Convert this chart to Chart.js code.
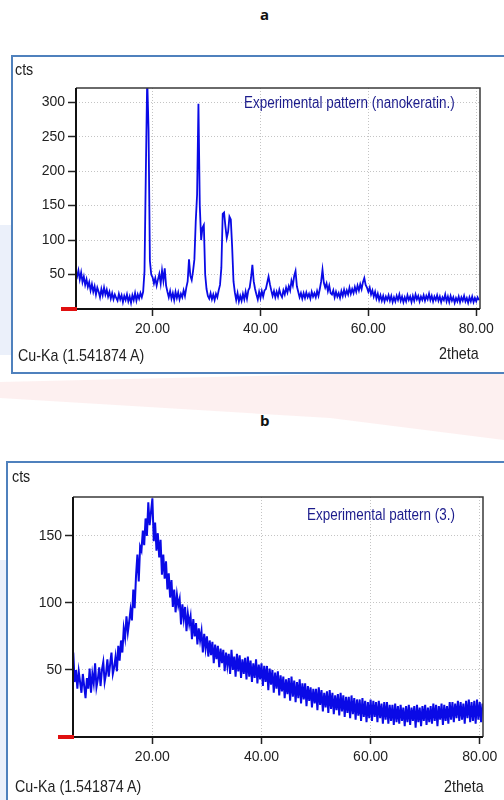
<!DOCTYPE html>
<html lang="en">
<head>
<meta charset="UTF-8">
<title>XRD patterns</title>
<style>
  body { margin: 0; width: 504px; height: 800px; background: #fff; position: relative; overflow: hidden;
         font-family: "Liberation Sans", Arial, sans-serif; color: #222; }
  .fundo { position: absolute; }
  .letra { position: absolute; font-family: "Open Sans", "Liberation Sans", sans-serif; font-weight: bold; font-size: 15px; color: #111; }
  .caixa { position: absolute; border: 2px solid #4f81bd; background: #fff; }
  .graf { position: absolute; }
  .txt { position: absolute; font-size: 17px; line-height: 16px; white-space: nowrap; transform: scaleX(0.84); transform-origin: 0 50%; }
  .leg { color: #1c1c8c; font-size: 16px; }
</style>
</head>
<body>
    <!-- marca d'agua clarinha do fundo -->
    <div class="fundo" style="left:0;top:0;width:504px;height:800px;background:rgba(225,60,60,0.08);clip-path:polygon(0 382px,504px 370px,504px 440px,330px 418px,0 398px);"></div>
    <div class="fundo" style="left:0;top:225px;width:14px;height:130px;background:rgba(90,130,210,0.12);"></div>
    <div class="fundo" style="left:0;top:560px;width:8px;height:240px;background:rgba(90,130,210,0.12);"></div>

    <div class="letra" style="left:260px;top:4px;">a</div>
    <div class="caixa" style="left:11px;top:55px;width:510px;height:315px;"></div>
    <div class="graf" style="left:12px;top:56px;width:492px;height:316px;"><canvas id="graficoA"></canvas></div>
    <div class="txt" style="left:15px;top:62px;">cts</div>
    <div class="txt leg" style="left:244px;top:95px;">Experimental pattern (nanokeratin.)</div>
    <div class="txt" style="left:18px;top:348px;">Cu-Ka (1.541874 A)</div>
    <div class="txt" style="left:439px;top:346px;">2theta</div>

    <div class="letra" style="left:260px;top:410px;">b</div>
    <div class="caixa" style="left:6px;top:461px;width:520px;height:360px;"></div>
    <div class="graf" style="left:7px;top:462px;width:497px;height:338px;"><canvas id="graficoB"></canvas></div>
    <div class="txt" style="left:12px;top:469px;">cts</div>
    <div class="txt leg" style="left:307px;top:507px;">Experimental pattern (3.)</div>
    <div class="txt" style="left:15px;top:779px;">Cu-Ka (1.541874 A)</div>
    <div class="txt" style="left:444px;top:779px;">2theta</div>

<script src="https://cdn.jsdelivr.net/npm/chart.js"></script>
<script>
    // varredura em 2theta: angulo inicial e passo (graus)
    var inicioA = 5.75;
    var passoA = 0.25;
    // contagens do padrao (a) nanokeratin, 4 leituras por grau
    var contagensA = [52,
        47, 56, 43, 53,   39, 47, 35, 43,   32, 39, 27, 36,   25, 33, 21, 31,
        25, 17, 29, 20,   31, 21, 28, 18,   25, 15, 23, 14,   21, 16, 12, 22,
        14, 20, 10, 19,   13, 21, 11, 18,   9, 20, 13, 23,    12, 21, 15, 23,
        17, 25, 55, 200,  335, 260, 70, 50,  46, 37, 45, 34,   43, 51, 37, 56,
        41, 59, 34, 25,   17, 26, 15, 23,   13, 25, 16, 24,   14, 22, 17, 27,
        19, 31, 40, 72,   48, 42, 55, 72,   127, 166, 298, 150, 100, 118, 122, 50,
        29, 19, 15, 23,   14, 21, 13, 22,   17, 27, 35, 60,   138, 140, 120, 103,
        112, 134, 130, 90, 40, 24, 13, 23,  11, 19, 12, 22,   14, 25, 15, 27,
        31, 45, 64, 40,   29, 21, 14, 25,   16, 26, 18, 27,   29, 38, 47, 36,
        27, 19, 26, 17,   25, 18, 28, 21,   17, 27, 21, 31,   24, 33, 27, 41,
        34, 48, 55, 33,   25, 17, 23, 15,   23, 16, 24, 17,   22, 15, 25, 18,
        23, 17, 26, 19,   29, 40, 57, 38,   31, 37, 26, 34,   23, 21, 27, 17,
        25, 18, 23, 16,   26, 19, 28, 20,   27, 21, 31, 22,   29, 23, 32, 25,
        34, 27, 36, 29,   39, 45, 35, 31,   25, 31, 21, 27,   18, 25, 15, 22,
        13, 20, 12, 19,   11, 18, 13, 20,   12, 19, 10, 17,   11, 19, 13, 21,
        12, 18, 10, 17,   11, 20, 13, 18,   10, 19, 12, 21,   14, 19, 11, 18,
        13, 20, 12, 19,   14, 22, 13, 19,   11, 18, 13, 20,   12, 18, 10, 17,
        13, 21, 11, 18,   10, 19, 12, 17,   9, 16, 11, 18,    10, 17, 12, 19,
        11, 16, 9, 17,    11, 18, 10, 16,   11, 17, 13];

    var inicioB = 5.5;
    var passoB = 0.25;
    // contagens do padrao (b) amostra 3
    var contagensB = [63, 41,
        50, 36, 49, 41,   33, 47, 38, 29,   44, 36, 51, 33,   47, 40, 55, 37,
        43, 52, 38, 50,   56, 41, 47, 58,   45, 54, 63, 47,   52, 60, 49, 68,
        57, 72, 63, 81,   74, 90, 78, 86,   95, 87, 110, 96,  120, 136, 116, 142,
        139, 154, 143, 163, 150, 175, 158, 168, 178, 146, 160, 139, 152, 134, 147, 121,
        136, 118, 131, 110, 122, 104, 117, 97, 110, 93, 106, 98, 103, 84, 99, 88,
        97, 79, 92, 84,   90, 73, 88, 75,   85, 69, 81, 72,   79, 63, 77, 66,
        75, 60, 72, 61,   71, 55, 69, 58,   68, 52, 66, 55,   65, 49, 63, 53,
        62, 47, 65, 50,   60, 45, 62, 49,   61, 44, 58, 47,   59, 43, 60, 45,
        57, 41, 55, 44,   58, 40, 54, 43,   55, 38, 53, 41,   53, 35, 51, 39,
        50, 33, 48, 36,   49, 31, 46, 34,   45, 29, 43, 32,   44, 27, 45, 30,
        42, 26, 41, 29,   43, 25, 40, 28,   40, 23, 38, 27,   37, 22, 36, 25,
        36, 20, 37, 24,   35, 19, 33, 22,   34, 18, 35, 21,   33, 17, 31, 20,
        32, 16, 33, 19,   31, 15, 30, 18,   30, 14, 31, 17,   29, 13, 28, 16,
        28, 12, 29, 15,   27, 11, 26, 14,   28, 12, 27, 15,   26, 11, 27, 14,
        25, 10, 26, 13,   26, 10, 24, 12,   24, 9, 25, 11,    23, 10, 24, 12,
        22, 8, 23, 11,    24, 9, 22, 12,    23, 7, 24, 11,    22, 8, 23, 12,
        24, 9, 22, 11,    23, 10, 25, 12,   24, 8, 23, 13,    25, 9, 24, 12,
        23, 10, 26, 13,   26, 11, 25, 14,   27, 12, 26, 13,   25, 10, 27, 14,
        28, 11, 26, 12,   27, 10, 28, 13,   26, 11, 25];

    var ticksX = [20, 40, 60, 80];
    var ticksYA = [50, 100, 150, 200, 250, 300];
    var ticksYB = [50, 100, 150];

    var fonte = '"Liberation Sans", Arial, sans-serif';

    function montarPontos(inicio, passo, contagens) {
        var pontos = [];
        for (var i = 0; i < contagens.length; i++) {
            pontos.push({ x: inicio + i * passo, y: contagens[i] });
        }
        return pontos;
    }

    // moldura do grafico + marquinha vermelha no zero
    var moldura = {
        id: 'moldura',
        afterDatasetsDraw: function (chart) {
            var a = chart.chartArea;
            var ctx = chart.ctx;
            ctx.save();
            ctx.strokeStyle = '#3a3a3a';
            ctx.lineWidth = 1.5;
            ctx.beginPath();
            ctx.moveTo(a.left, a.top);
            ctx.lineTo(a.right, a.top);
            ctx.lineTo(a.right, a.bottom);
            ctx.stroke();
            ctx.strokeStyle = '#111';
            ctx.lineWidth = 2;
            ctx.beginPath();
            ctx.moveTo(a.left, a.top);
            ctx.lineTo(a.left, a.bottom);
            ctx.lineTo(a.right, a.bottom);
            ctx.stroke();
            ctx.strokeStyle = '#e01010';
            ctx.lineWidth = 4;
            ctx.beginPath();
            ctx.moveTo(a.left - 15, a.bottom);
            ctx.lineTo(a.left + 1, a.bottom);
            ctx.stroke();
            ctx.restore();
        }
    };

    function criarGrafico(ctx, pontos, xMin, xMax, yMax, ticksY, topo, direita, larguraY, espessura) {
        return new Chart(ctx, {
            type: 'line',
            data: {
                datasets: [{
                    data: pontos,
                    borderColor: '#0a0ae6',
                    borderWidth: espessura,
                    pointRadius: 0,
                    tension: 0,
                    fill: false
                }]
            },
            options: {
                responsive: true,
                maintainAspectRatio: false,
                animation: false,
                layout: { padding: { top: topo, right: direita, left: 0, bottom: 0 } },
                plugins: { legend: { display: false }, tooltip: { enabled: false } },
                scales: {
                    x: {
                        type: 'linear',
                        min: xMin,
                        max: xMax,
                        afterBuildTicks: function (s) { s.ticks = ticksX.map(function (v) { return { value: v }; }); },
                        afterFit: function (s) { s.height = 63; },
                        grid: { color: '#c4c4c4', lineWidth: 1, tickLength: 7, tickColor: '#222', tickWidth: 1.5 },
                        border: { display: false, dash: [1, 2] },
                        ticks: {
                            color: '#222', font: { family: fonte, size: 14 }, padding: 5,
                            maxRotation: 0, autoSkip: false,
                            callback: function (v) { return Number(v).toFixed(2); }
                        }
                    },
                    y: {
                        min: 0,
                        max: yMax,
                        afterBuildTicks: function (s) { s.ticks = ticksY.map(function (v) { return { value: v }; }); },
                        afterFit: function (s) { s.width = larguraY; },
                        grid: { color: '#c4c4c4', lineWidth: 1, tickLength: 8, tickColor: '#222', tickWidth: 1.5 },
                        border: { display: false, dash: [1, 2] },
                        ticks: { color: '#222', font: { family: fonte, size: 14 }, padding: 3 }
                    }
                }
            },
            plugins: [moldura]
        });
    }

    criarGrafico(document.getElementById('graficoA'), montarPontos(inicioA, passoA, contagensA),
        5.8, 80.7, 320.7, ticksYA, 32, 24, 64, 1.8);
    criarGrafico(document.getElementById('graficoB'), montarPontos(inicioB, passoB, contagensB),
        5.45, 80.6, 179, ticksYB, 35, 21, 66, 2);
</script>
</body>
</html>
